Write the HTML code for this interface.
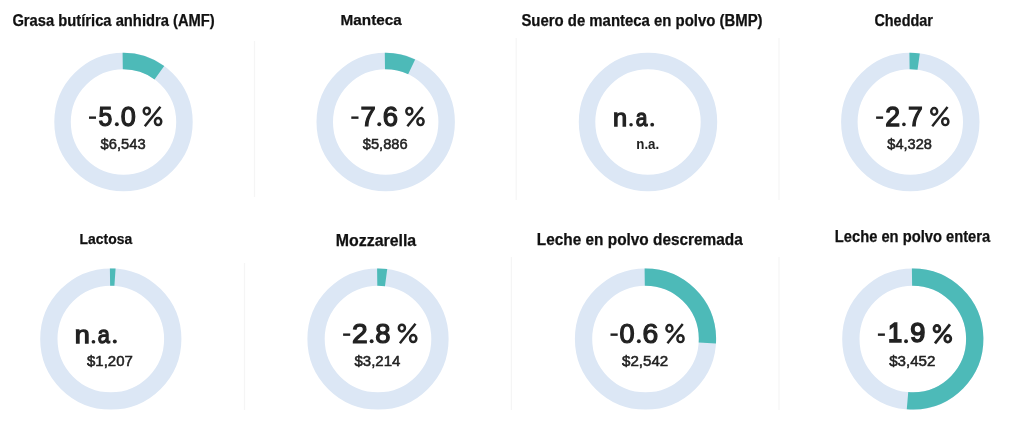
<!DOCTYPE html>
<html><head><meta charset="utf-8"><style>
html,body{margin:0;padding:0;background:#fff;width:1024px;height:422px;overflow:hidden}
svg{display:block;will-change:transform}
text{font-family:"Liberation Sans",sans-serif;fill:#222222}
.ti{font-weight:bold;fill:#111;stroke:#111;stroke-width:0.25px}
.bv{stroke:#222222;stroke-width:1.25px}
.na{stroke:#222222;stroke-width:1.3px}
.sv{font-size:14px;stroke:#222222;stroke-width:0.5px}
.sna{font-size:14.5px;font-weight:bold}
</style></head><body>
<svg width="1024" height="422" viewBox="0 0 1024 422">
<rect x="253.9" y="41" width="1.2" height="156" fill="#f5f5f5"/>
<rect x="515.6" y="38" width="1.2" height="162" fill="#f5f5f5"/>
<rect x="778.4" y="38" width="1.2" height="162" fill="#f5f5f5"/>
<rect x="243.9" y="263" width="1.2" height="147" fill="#f5f5f5"/>
<rect x="510.8" y="257" width="1.2" height="153" fill="#f5f5f5"/>
<rect x="778.4" y="257" width="1.2" height="153" fill="#f5f5f5"/>
<circle cx="123.5" cy="122" r="60.95" fill="none" stroke="#dce7f5" stroke-width="16.5"/>
<circle cx="123.5" cy="122" r="60.95" fill="none" stroke="#4dbab8" stroke-width="16.5" stroke-dasharray="39.1 382.96" transform="rotate(-90.75 123.5 122)"/>
<circle cx="385.7" cy="122" r="60.95" fill="none" stroke="#dce7f5" stroke-width="16.5"/>
<circle cx="385.7" cy="122" r="60.95" fill="none" stroke="#4dbab8" stroke-width="16.5" stroke-dasharray="27.61 382.96" transform="rotate(-90.75 385.7 122)"/>
<circle cx="648" cy="122" r="60.95" fill="none" stroke="#dce7f5" stroke-width="16.5"/>
<circle cx="910.3" cy="122" r="60.95" fill="none" stroke="#dce7f5" stroke-width="16.5"/>
<circle cx="910.3" cy="122" r="60.95" fill="none" stroke="#4dbab8" stroke-width="16.5" stroke-dasharray="9.23 382.96" transform="rotate(-90.75 910.3 122)"/>
<circle cx="110.8" cy="339" r="61.95" fill="none" stroke="#dce7f5" stroke-width="17.3"/>
<circle cx="110.8" cy="339" r="61.95" fill="none" stroke="#4dbab8" stroke-width="17.3" stroke-dasharray="5.08 389.24" transform="rotate(-90.74 110.8 339)"/>
<circle cx="378" cy="339" r="61.95" fill="none" stroke="#dce7f5" stroke-width="17.3"/>
<circle cx="378" cy="339" r="61.95" fill="none" stroke="#4dbab8" stroke-width="17.3" stroke-dasharray="8.97 389.24" transform="rotate(-90.74 378 339)"/>
<circle cx="645.5" cy="339" r="61.95" fill="none" stroke="#dce7f5" stroke-width="17.3"/>
<circle cx="645.5" cy="339" r="61.95" fill="none" stroke="#4dbab8" stroke-width="17.3" stroke-dasharray="102 389.24" transform="rotate(-90.74 645.5 339)"/>
<circle cx="912.8" cy="339" r="61.95" fill="none" stroke="#dce7f5" stroke-width="17.3"/>
<circle cx="912.8" cy="339" r="61.95" fill="none" stroke="#4dbab8" stroke-width="17.3" stroke-dasharray="200.48 389.24" transform="rotate(-90.74 912.8 339)"/>
<text class="ti" font-size="15.6" x="12.4" y="25.5" textLength="202.4" lengthAdjust="spacingAndGlyphs">Grasa butírica anhidra (AMF)</text>
<text class="ti" font-size="15.4" x="340.6" y="25.4" textLength="61.1" lengthAdjust="spacingAndGlyphs">Manteca</text>
<text class="ti" font-size="15.6" x="521.4" y="25.5" textLength="241.2" lengthAdjust="spacingAndGlyphs">Suero de manteca en polvo (BMP)</text>
<text class="ti" font-size="15.6" x="874.4" y="25.5" textLength="58.5" lengthAdjust="spacingAndGlyphs">Cheddar</text>
<text class="ti" font-size="15.3" x="79.6" y="243.5" textLength="52.6" lengthAdjust="spacingAndGlyphs">Lactosa</text>
<text class="ti" font-size="15.8" x="335.8" y="245.6" textLength="80.4" lengthAdjust="spacingAndGlyphs">Mozzarella</text>
<text class="ti" font-size="15.6" x="536.8" y="244.5" textLength="206" lengthAdjust="spacingAndGlyphs">Leche en polvo descremada</text>
<text class="ti" font-size="15.7" x="834.8" y="241.5" textLength="155.4" lengthAdjust="spacingAndGlyphs">Leche en polvo entera</text>
<rect x="89" y="116.45" width="7" height="2.4" fill="#222222"/>
<text class="bv" font-size="27.11" transform="translate(98.48 125.58) scale(0.915 1)">5</text>
<circle cx="116.85" cy="124.25" r="1.95" fill="#222222"/>
<text class="bv" font-size="27.11" transform="translate(120.77 125.58) scale(0.999 1)">0</text>
<g transform="translate(142.3 126.2) scale(1.000)" fill="none" stroke="#222222" stroke-width="2.5"><ellipse cx="4.5" cy="-15.1" rx="3.05" ry="3.4"/><ellipse cx="15.8" cy="-4.65" rx="3.15" ry="3.55"/><path d="M18.1 -19.5 L2.5 0.1"/></g>
<rect x="351.3" y="116.45" width="7.2" height="2.4" fill="#222222"/>
<text class="bv" font-size="27.69" transform="translate(360.51 125.58) scale(0.990 1)">7</text>
<circle cx="379.25" cy="124.25" r="1.95" fill="#222222"/>
<text class="bv" font-size="27.69" transform="translate(382.73 125.58) scale(0.991 1)">6</text>
<g transform="translate(404.9 126.2) scale(0.986)" fill="none" stroke="#222222" stroke-width="2.5"><ellipse cx="4.5" cy="-15.1" rx="3.05" ry="3.4"/><ellipse cx="15.8" cy="-4.65" rx="3.15" ry="3.55"/><path d="M18.1 -19.5 L2.5 0.1"/></g>
<rect x="876.1" y="116.45" width="7" height="2.4" fill="#222222"/>
<text class="bv" font-size="27.11" transform="translate(885.17 125.58) scale(0.985 1)">2</text>
<circle cx="903.92" cy="124.38" r="1.82" fill="#222222"/>
<text class="bv" font-size="27.11" transform="translate(907.95 125.58) scale(0.980 1)">7</text>
<g transform="translate(929.8 126.2) scale(0.981)" fill="none" stroke="#222222" stroke-width="2.5"><ellipse cx="4.5" cy="-15.1" rx="3.05" ry="3.4"/><ellipse cx="15.8" cy="-4.65" rx="3.15" ry="3.55"/><path d="M18.1 -19.5 L2.5 0.1"/></g>
<rect x="343.1" y="333.45" width="7.1" height="2.4" fill="#222222"/>
<text class="bv" font-size="27.69" transform="translate(352.12 342.57) scale(1.017 1)">2</text>
<circle cx="371.65" cy="341.25" r="1.95" fill="#222222"/>
<text class="bv" font-size="27.69" transform="translate(375.33 342.57) scale(0.990 1)">8</text>
<g transform="translate(397.4 343.2) scale(1.000)" fill="none" stroke="#222222" stroke-width="2.5"><ellipse cx="4.5" cy="-15.1" rx="3.05" ry="3.4"/><ellipse cx="15.8" cy="-4.65" rx="3.15" ry="3.55"/><path d="M18.1 -19.5 L2.5 0.1"/></g>
<rect x="610.5" y="333.45" width="7.2" height="2.4" fill="#222222"/>
<text class="bv" font-size="27.69" transform="translate(619.45 342.57) scale(0.980 1)">0</text>
<circle cx="638.85" cy="341.25" r="1.95" fill="#222222"/>
<text class="bv" font-size="27.69" transform="translate(642.5 342.57) scale(1.019 1)">6</text>
<g transform="translate(665 343.2) scale(0.981)" fill="none" stroke="#222222" stroke-width="2.5"><ellipse cx="4.5" cy="-15.1" rx="3.05" ry="3.4"/><ellipse cx="15.8" cy="-4.65" rx="3.15" ry="3.55"/><path d="M18.1 -19.5 L2.5 0.1"/></g>
<rect x="877.9" y="333.45" width="7" height="2.4" fill="#222222"/>
<text class="bv" style="stroke-width:1.6px" font-size="27.18" transform="translate(888.01 342.4) scale(0.939 1)">1</text>
<circle cx="906.05" cy="341.25" r="1.95" fill="#222222"/>
<text class="bv" style="stroke-width:1.6px" font-size="27.18" transform="translate(910.23 342.4) scale(0.996 1)">9</text>
<g transform="translate(932.6 343.2) scale(0.961)" fill="none" stroke="#222222" stroke-width="2.9"><ellipse cx="4.5" cy="-15.1" rx="3.05" ry="3.4"/><ellipse cx="15.8" cy="-4.65" rx="3.15" ry="3.55"/><path d="M18.1 -19.5 L2.5 0.1"/></g>
<text class="na" font-size="24.72" transform="translate(612.88 125.95) scale(1.025 1)">n</text>
<circle cx="631.05" cy="124.85" r="1.75" fill="#222222"/>
<text class="na" font-size="24.72" transform="translate(635.66 125.95) scale(0.850 1)">a</text>
<circle cx="652.2" cy="124.7" r="1.9" fill="#222222"/>
<text class="na" font-size="24.53" transform="translate(74.72 342.95) scale(1.101 1)">n</text>
<circle cx="93.45" cy="341.75" r="1.85" fill="#222222"/>
<text class="na" font-size="24.53" transform="translate(97.85 342.95) scale(0.885 1)">a</text>
<circle cx="114.8" cy="341.6" r="2" fill="#222222"/>
<text class="sv" x="100.6" y="148.9" textLength="45.1" lengthAdjust="spacingAndGlyphs">$6,543</text>
<text class="sv" x="362.8" y="148.7" textLength="44.8" lengthAdjust="spacingAndGlyphs">$5,886</text>
<text class="sv" x="887.3" y="148.7" textLength="44.6" lengthAdjust="spacingAndGlyphs">$4,328</text>
<text class="sv" x="87" y="366.1" textLength="45.8" lengthAdjust="spacingAndGlyphs">$1,207</text>
<text class="sv" x="354.5" y="365.6" textLength="45.9" lengthAdjust="spacingAndGlyphs">$3,214</text>
<text class="sv" x="622" y="365.7" textLength="46.2" lengthAdjust="spacingAndGlyphs">$2,542</text>
<text class="sv" x="889.2" y="365.6" textLength="46.2" lengthAdjust="spacingAndGlyphs">$3,452</text>
<text class="sna" x="636.3" y="148.7" textLength="22.9" lengthAdjust="spacingAndGlyphs">n.a.</text>
</svg>
</body></html>
